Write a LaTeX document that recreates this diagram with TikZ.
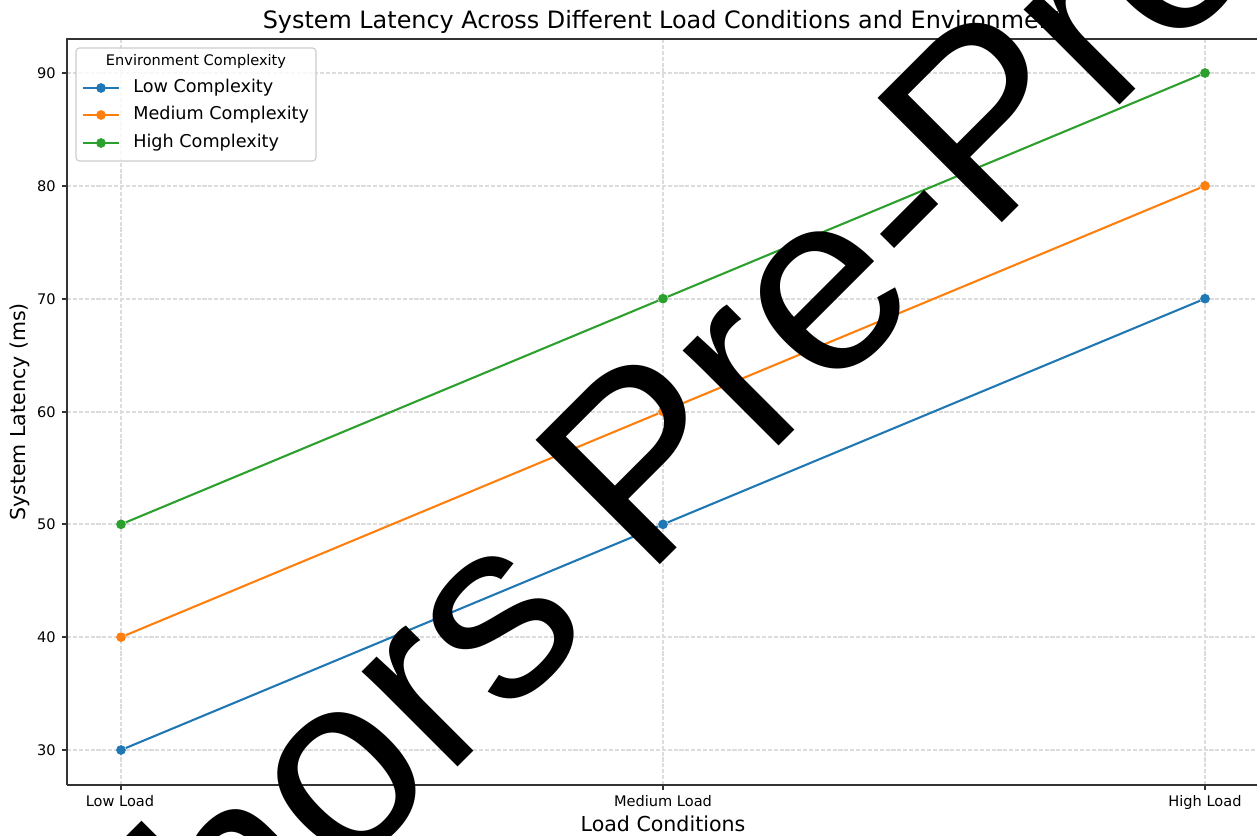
\documentclass[tikz,border=0pt]{standalone}
\usepackage{fontspec}
\setmainfont{DejaVu Sans}
\newfontfamily\markfont{Liberation Sans}
\definecolor{lowc}{HTML}{1F77B4}
\definecolor{medc}{HTML}{FF7F0E}
\definecolor{highc}{HTML}{2CA02C}
\definecolor{gridc}{HTML}{DCDCDC}

\begin{document}
\begin{tikzpicture}[x=0.72pt, y=-0.72pt,
    gridline/.style={gridc, line width=0.8pt, dash pattern=on 2.96pt off 1.28pt},
    spine/.style={black!80, line width=0.8pt},
    ticklab/.style={font=\fontsize{10.5}{12}\selectfont, inner sep=0pt},
    axlab/.style={font=\fontsize{14.8}{17}\selectfont, inner sep=0pt},
    legtext/.style={font=\fontsize{12.7}{15}\selectfont, inner sep=0pt, anchor=west},
    dot/.style={circle, fill, inner sep=0pt, minimum size=7pt},
    series/.style={line width=1.5pt}]

    \useasboundingbox (0,0) rectangle (1257,836);
    \clip (0,0) rectangle (1257,836);

    % grid
    \draw[gridline] (121,39) -- (121,785);
    \draw[gridline] (663,39) -- (663,785);
    \draw[gridline] (1205,39) -- (1205,785);
    \draw[gridline] (67,73) -- (1259,73);
    \draw[gridline] (67,186) -- (1259,186);
    \draw[gridline] (67,299) -- (1259,299);
    \draw[gridline] (67,412) -- (1259,412);
    \draw[gridline] (67,524) -- (1259,524);
    \draw[gridline] (67,637) -- (1259,637);
    \draw[gridline] (67,750) -- (1259,750);

    % axes
    \draw[spine] (67,785) -- (67,39) -- (1259,39);
    \draw[spine] (67,785) -- (1259,785);
    \draw[spine] (62.1,73) -- (67,73) (62.1,186) -- (67,186) (62.1,299) -- (67,299);
    \draw[spine] (62.1,412) -- (67,412) (62.1,524) -- (67,524) (62.1,637) -- (67,637);
    \draw[spine] (62.1,750) -- (67,750);
    \draw[spine] (121,785) -- (121,789.9) (663,785) -- (663,789.9) (1205,785) -- (1205,789.9);

    \node[ticklab, anchor=east] (y90) at (56,73) {90};
    \node[ticklab, anchor=east] (y80) at (56,186) {80};
    \node[ticklab, anchor=east] (y70) at (56,299) {70};
    \node[ticklab, anchor=east] (y60) at (56,412) {60};
    \node[ticklab, anchor=east] (y50) at (56,524) {50};
    \node[ticklab, anchor=east] (y40) at (56,637) {40};
    \node[ticklab, anchor=east] (y30) at (56,750) {30};
    \node[ticklab, anchor=base] (xlow) at (120,806) {Low Load};
    \node[ticklab, anchor=base] (xmed) at (663,806) {Medium Load};
    \node[ticklab, anchor=base] (xhigh) at (1205,806) {High Load};

    \node[axlab, anchor=base] (xlabel) at (663,831) {Load Conditions};
    \node[axlab, rotate=90] (ylabel) at (20,412) {System Latency (ms)};
    \node[font=\fontsize{17.2}{20}\selectfont, anchor=base, inner sep=0pt] (title) at (663,29)
        {System Latency Across Different Load Conditions and Environment};

    % data
    \begin{scope}[shift={(121,1088.5)}, x=390.24pt, y=8.124pt]
        \node[dot, lowc] (L1) at (0,30) {};
        \node[dot, lowc] (L2) at (1,50) {};
        \node[dot, lowc] (L3) at (2,70) {};
        \node[dot, medc] (M1) at (0,40) {};
        \node[dot, medc] (M2) at (1,60) {};
        \node[dot, medc] (M3) at (2,80) {};
        \node[dot, highc] (H1) at (0,50) {};
        \node[dot, highc] (H2) at (1,70) {};
        \node[dot, highc] (H3) at (2,90) {};
        \draw[series, lowc] (L1) -- (L2) -- (L3);
        \draw[series, medc] (M1) -- (M2) -- (M3);
        \draw[series, highc] (H1) -- (H2) -- (H3);
    \end{scope}

    % legend
    \draw[black!20, fill=white, fill opacity=0.8, rounded corners=2.5pt, line width=0.8pt]
        (76,48) rectangle (316,161);
    \node[ticklab] (legtitle) at (196,61) {Environment Complexity};
    \node[dot, lowc] (kL) at (101,88) {};
    \node[dot, medc] (kM) at (101,115) {};
    \node[dot, highc] (kH) at (101,143) {};
    \coordinate (kL0) at (83,88);  \coordinate (kL1) at (119,88);
    \coordinate (kM0) at (83,115); \coordinate (kM1) at (119,115);
    \coordinate (kH0) at (83,143); \coordinate (kH1) at (119,143);
    \draw[series, lowc] (kL0) -- (kL1);
    \draw[series, medc] (kM0) -- (kM1);
    \draw[series, highc] (kH0) -- (kH1);
    \node[legtext] (tL) at (133,88) {Low Complexity};
    \node[legtext] (tM) at (133,115) {Medium Complexity};
    \node[legtext] (tH) at (133,143) {High Complexity};

    % watermark
    \node[font=\markfont\fontsize{184}{184}\selectfont, anchor=base west, rotate=45, inner sep=0pt]
        (mark) at (-27,1252) {Authors Pre-Proof};
\end{tikzpicture}
\end{document}
